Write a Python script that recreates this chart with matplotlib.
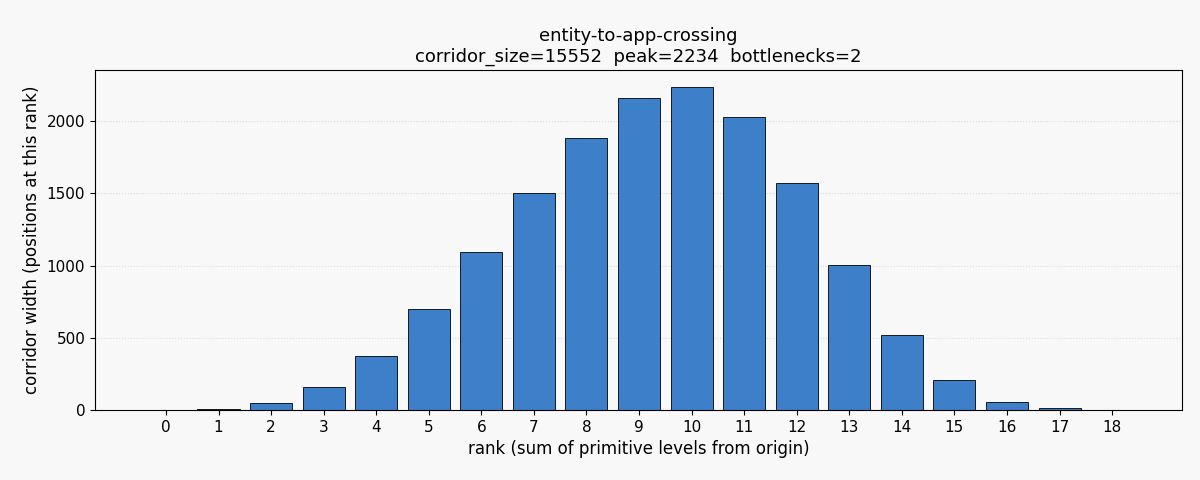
import matplotlib
matplotlib.use("Agg")
import matplotlib.pyplot as plt

ranks = list(range(19))
widths = [1, 9, 48, 160, 374, 698, 1090, 1500, 1880, 2160, 2234, 2025, 1570, 1005, 520, 210, 55, 12, 1]

fig = plt.figure(figsize=(12, 4.8), dpi=100, facecolor="#f8f8f8")
ax = fig.add_axes([95/1200, 70/480, (1182-95)/1200, 340/480])
ax.set_facecolor("#f8f8f8")
ax.bar(ranks, widths, width=0.8, color="#3d7fc9", edgecolor="black", linewidth=0.6, zorder=2)
ax.set_xticks(ranks)
ax.set_xlim(-1.35, 19.33)
ax.set_ylim(0, 2353)
ax.grid(axis="y", linestyle=":", color="#dddddd", linewidth=0.8, zorder=0)
ax.tick_params(labelsize=11)
ax.set_xlabel("rank (sum of primitive levels from origin)", fontsize=12)
ax.set_ylabel("corridor width (positions at this rank)", fontsize=12)
ax.set_title("entity-to-app-crossing\ncorridor_size=15552  peak=2234  bottlenecks=2", fontsize=13)
fig.savefig("out.png", dpi=100, facecolor=fig.get_facecolor())
